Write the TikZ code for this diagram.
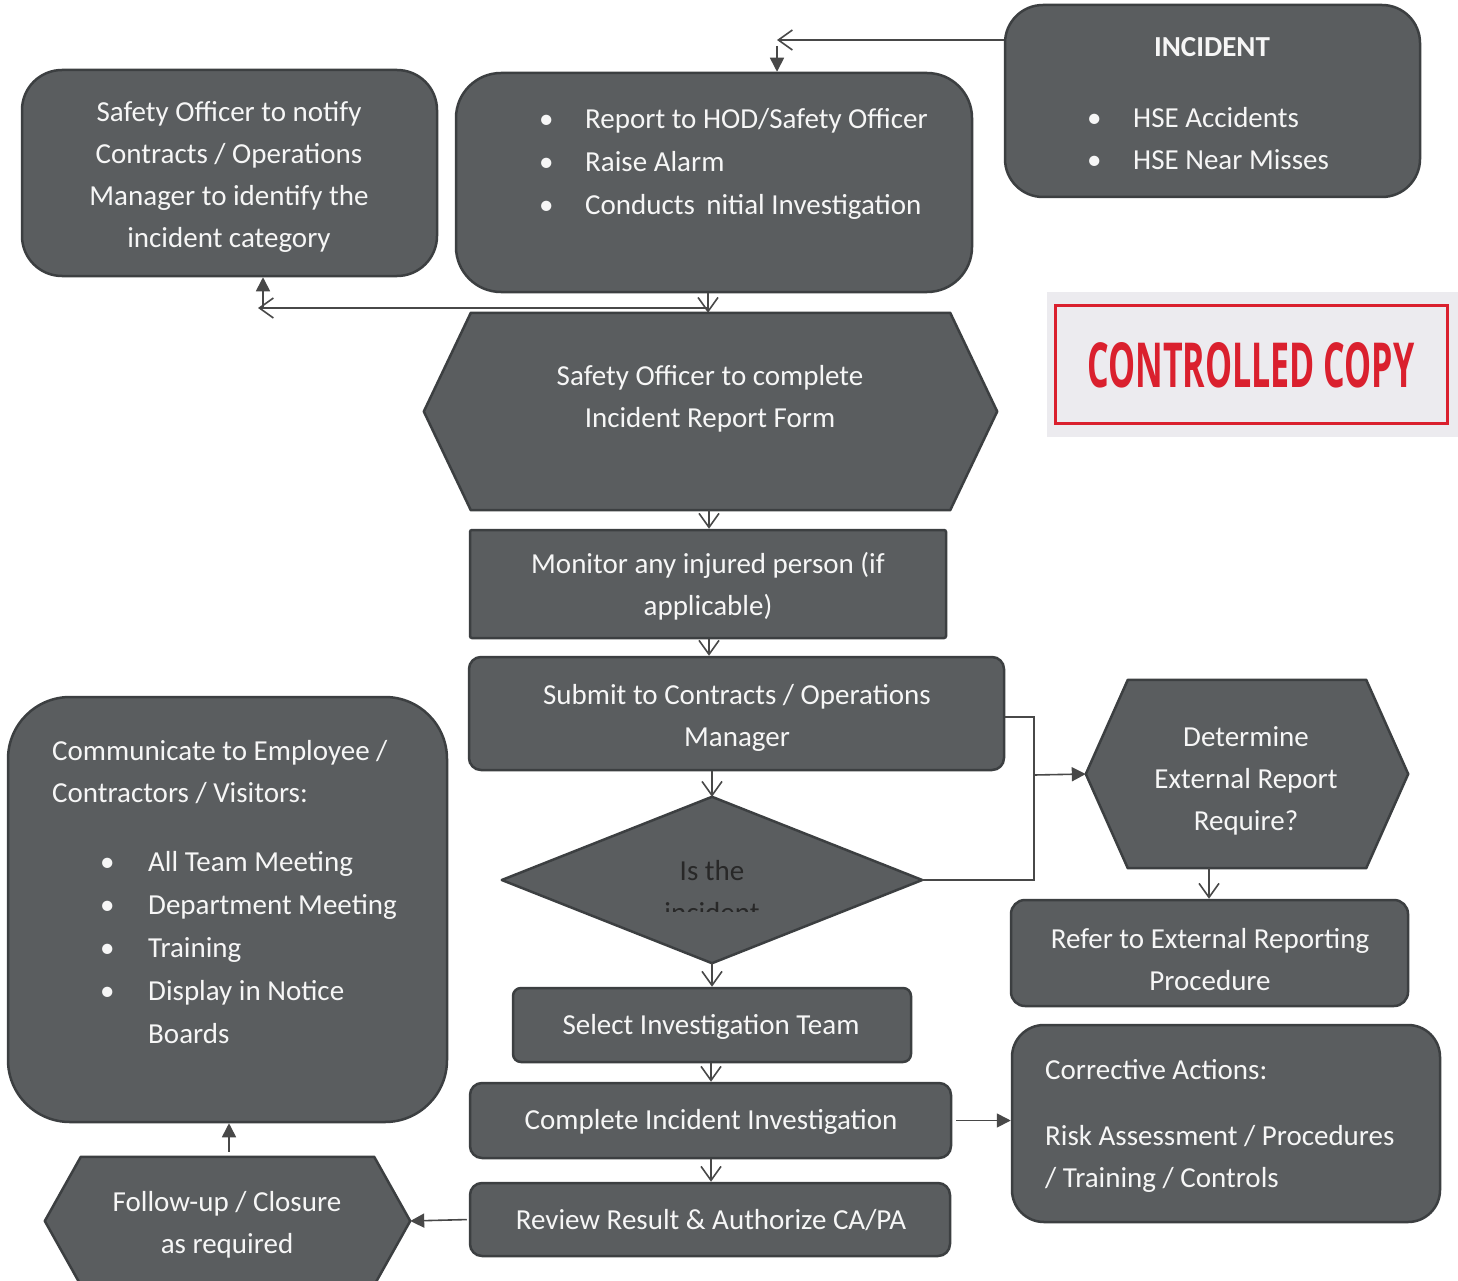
\documentclass[tikz,border=0pt]{standalone}
\usepackage{fontspec}
\setmainfont{Carlito}
\newfontfamily\stampfont{Open Sans}
\usetikzlibrary{arrows.meta,fit,calc}

\definecolor{boxgray}{RGB}{90,93,95}
\definecolor{boxedge}{RGB}{60,63,65}
\definecolor{boxtext}{RGB}{246,246,246}
\definecolor{darktext}{RGB}{40,40,40}
\definecolor{linkgray}{RGB}{72,72,72}
\definecolor{stampred}{RGB}{218,32,46}
\definecolor{stampbg}{RGB}{236,235,239}

\tikzset{
  frame/.style={fit={#1}, inner sep=0pt, draw=boxedge, fill=boxgray, line width=2.5pt},
  area/.style={fit={#1}, inner sep=0pt},
  hexfill/.style={draw=boxedge, fill=boxgray, line width=2.5pt, line join=round},
  txt/.style={text=boxtext, inner sep=0pt, align=center,
              font=\fontsize{29}{42}\selectfont},
  listtxt/.style={text=boxtext, inner sep=0pt, align=left, anchor=west,
              font=\fontsize{29}{43}\selectfont},
  link/.style={draw=linkgray, line width=1.6pt},
  openarr/.style={link, -{Straight Barb[length=14pt,width=20pt]}},
  fillarr/.style={link, -{Triangle[length=14pt,width=14pt]}},
}
\newcommand\bul[1]{\makebox[#1][l]{\textbullet}}

\begin{document}
\begin{tikzpicture}[x=1pt,y=-1pt]
\useasboundingbox (0,0) rectangle (1458,1281);
\fill[white] (0,0) rectangle (1458,1281);

% ---------- boxes ----------
\node[frame={(1005,5) (1420,197)}, rounded corners=38pt] (incident) {};
\node[frame={(456,73) (972,292)}, rounded corners=45pt] (report) {};
\node[frame={(22,70) (437,276)}, rounded corners=40pt] (notify) {};
\node[frame={(470,530) (946,638)}, rounded corners=2pt] (monitor) {};
\node[frame={(469,657) (1004,770)}, rounded corners=12pt] (submit) {};
\node[frame={(1011,900) (1408,1006)}, rounded corners=14pt] (refer) {};
\node[frame={(513,988) (911,1062)}, rounded corners=8pt] (select) {};
\node[frame={(470,1083) (951,1158)}, rounded corners=12pt] (complete) {};
\node[frame={(470,1183) (950,1256)}, rounded corners=12pt] (review) {};
\node[frame={(1012,1025) (1440,1222)}, rounded corners=32pt] (corrective) {};
\node[frame={(8,697) (447,1122)}, rounded corners=62pt] (communicate) {};

% hexagons and decision diamond
\node[area={(424,313) (997,510)}] (formhex) {};
\draw[hexfill] (formhex.west) -- ($(formhex.north west)+(47,0)$) -- ($(formhex.north east)+(-47,0)$)
  -- (formhex.east) -- ($(formhex.south east)+(-47,0)$) -- ($(formhex.south west)+(47,0)$) -- cycle;
\node[area={(1086,680) (1408,868)}] (determine) {};
\draw[hexfill] (determine.west) -- ($(determine.north west)+(42,0)$) -- ($(determine.north east)+(-42,0)$)
  -- (determine.east) -- ($(determine.south east)+(-42,0)$) -- ($(determine.south west)+(42,0)$) -- cycle;
\node[area={(45,1157) (410,1285)}] (followup) {};
\draw[hexfill] (followup.west) -- ($(followup.north west)+(36,0)$) -- ($(followup.north east)+(-36,0)$)
  -- (followup.east) -- ($(followup.south east)+(-36,0)$) -- ($(followup.south west)+(36,0)$) -- cycle;
\node[area={(502,797) (922,963)}] (diamond) {};
\draw[hexfill] (diamond.north) -- (diamond.east) -- (diamond.south) -- (diamond.west) -- cycle;

% ---------- texts ----------
\node[txt, font=\fontsize{29}{42}\selectfont\bfseries] (t-inc) at (1212,47) {INCIDENT};
\node[listtxt, font=\fontsize{29}{42}\selectfont] (t-inclist) at (1087,139)
  {\bul{46pt}HSE Accidents\\\bul{46pt}HSE Near Misses};
\node[listtxt] (t-report) at (539,163.5)
  {\bul{46pt}Report to HOD/Safety Officer\\\bul{46pt}Raise Alarm\\\bul{46pt}Conducts \,nitial Investigation};
\node[txt] (t-notify) at (229,177)
  {Safety Officer to notify\\Contracts / Operations\\Manager to identify the\\incident category};
\node[txt] (t-form) at (710,399) {Safety Officer to complete\\Incident Report Form};
\node[txt] (t-monitor) at (708,586) {Monitor any injured person (if\\applicable)};
\node[txt] (t-submit) at (737,718) {Submit to Contracts / Operations\\Manager};
\begin{scope}
  \clip (560,840) rectangle (860,911);
  \node[txt, text=darktext] (t-diamond) at (712,892) {Is the\\incident};
\end{scope}
\node[txt] (t-determine) at (1246,781) {Determine\\External Report\\Require?};
\node[txt] (t-refer) at (1210,960) {Refer to External Reporting\\Procedure};
\node[txt] (t-select) at (711,1027) {Select Investigation Team};
\node[txt] (t-complete) at (711,1122) {Complete Incident Investigation};
\node[txt] (t-review) at (711,1220) {Review Result \& Authorize CA/PA};
\node[txt, anchor=west] (t-corr1) at (1045,1070) {Corrective Actions:};
\node[txt, anchor=west, align=left] (t-corr2) at (1045,1159)
  {Risk Assessment / Procedures\\/ Training / Controls};
\node[txt, anchor=west, align=left] (t-comm1) at (52,772)
  {Communicate to Employee /\\Contractors / Visitors:};
\node[listtxt] (t-comm2) at (100,947.5)
  {\bul{48pt}All Team Meeting\\\bul{48pt}Department Meeting\\\bul{48pt}Training\\\bul{48pt}Display in Notice\\\makebox[48pt]{}Boards};
\node[txt] (t-follow) at (227,1225) {Follow-up / Closure\\as required};

% ---------- stamp ----------
\node[area={(1047,292) (1458,437)}, fill=stampbg] (stampbg) {};
\node[area={(1055,305) (1447,423)}, draw=stampred, line width=3pt] (stamp) {};
\node[inner sep=0pt, text=stampred] (t-stamp) at (1251,365)
  {\resizebox{327pt}{45pt}{\stampfont\bfseries CONTROLLED COPY}};

% ---------- connectors ----------
\coordinate (xa) at (777,0);
\coordinate (ja) at (777,40);
\draw[openarr] (incident.west |- ja) -- (ja);
\draw[fillarr] ($(ja)+(0,6)$) -- (xa |- report.north);

\coordinate (xb) at (708,0);
\coordinate (jb) at (708,308);
\coordinate (jc) at (258,308);
\coordinate (xc) at (263,0);
\draw[openarr] (xb |- report.south) -- (xb |- formhex.north);
\draw[openarr] (jb) -- (jc);
\draw[fillarr] (xc |- jb) -- (xc |- notify.south);

\coordinate (xd) at (709,0);
\draw[openarr] (xd |- formhex.south) -- (xd |- monitor.north);
\draw[openarr] (xd |- monitor.south) -- (xd |- submit.north);
\coordinate (xe) at (712,0);
\draw[openarr] (xe |- submit.south) -- (diamond.north);
\draw[openarr] (diamond.south) -- (xe |- select.north);
\coordinate (xf) at (711,0);
\draw[openarr] (xf |- select.south) -- (xf |- complete.north);
\draw[openarr] (xf |- complete.south) -- (xf |- review.north);

\coordinate (bus) at (1034,775);
\coordinate (ys) at (0,717);
\draw[link] (submit.east |- ys) -| (bus) |- (diamond.east);
\draw[fillarr] (bus) -- (determine.west);
\coordinate (xg) at (1209,0);
\draw[openarr] (xg |- determine.south) -- (xg |- refer.north);

\draw[fillarr, shorten <=4pt] (complete.east) -- (corrective.west |- complete.east);
\draw[fillarr, shorten <=2pt] (review.west) -- (followup.east);
\coordinate (xh) at (229,0);
\draw[fillarr, shorten <=5pt] (xh |- followup.north) -- (xh |- communicate.south);
\end{tikzpicture}
\end{document}
